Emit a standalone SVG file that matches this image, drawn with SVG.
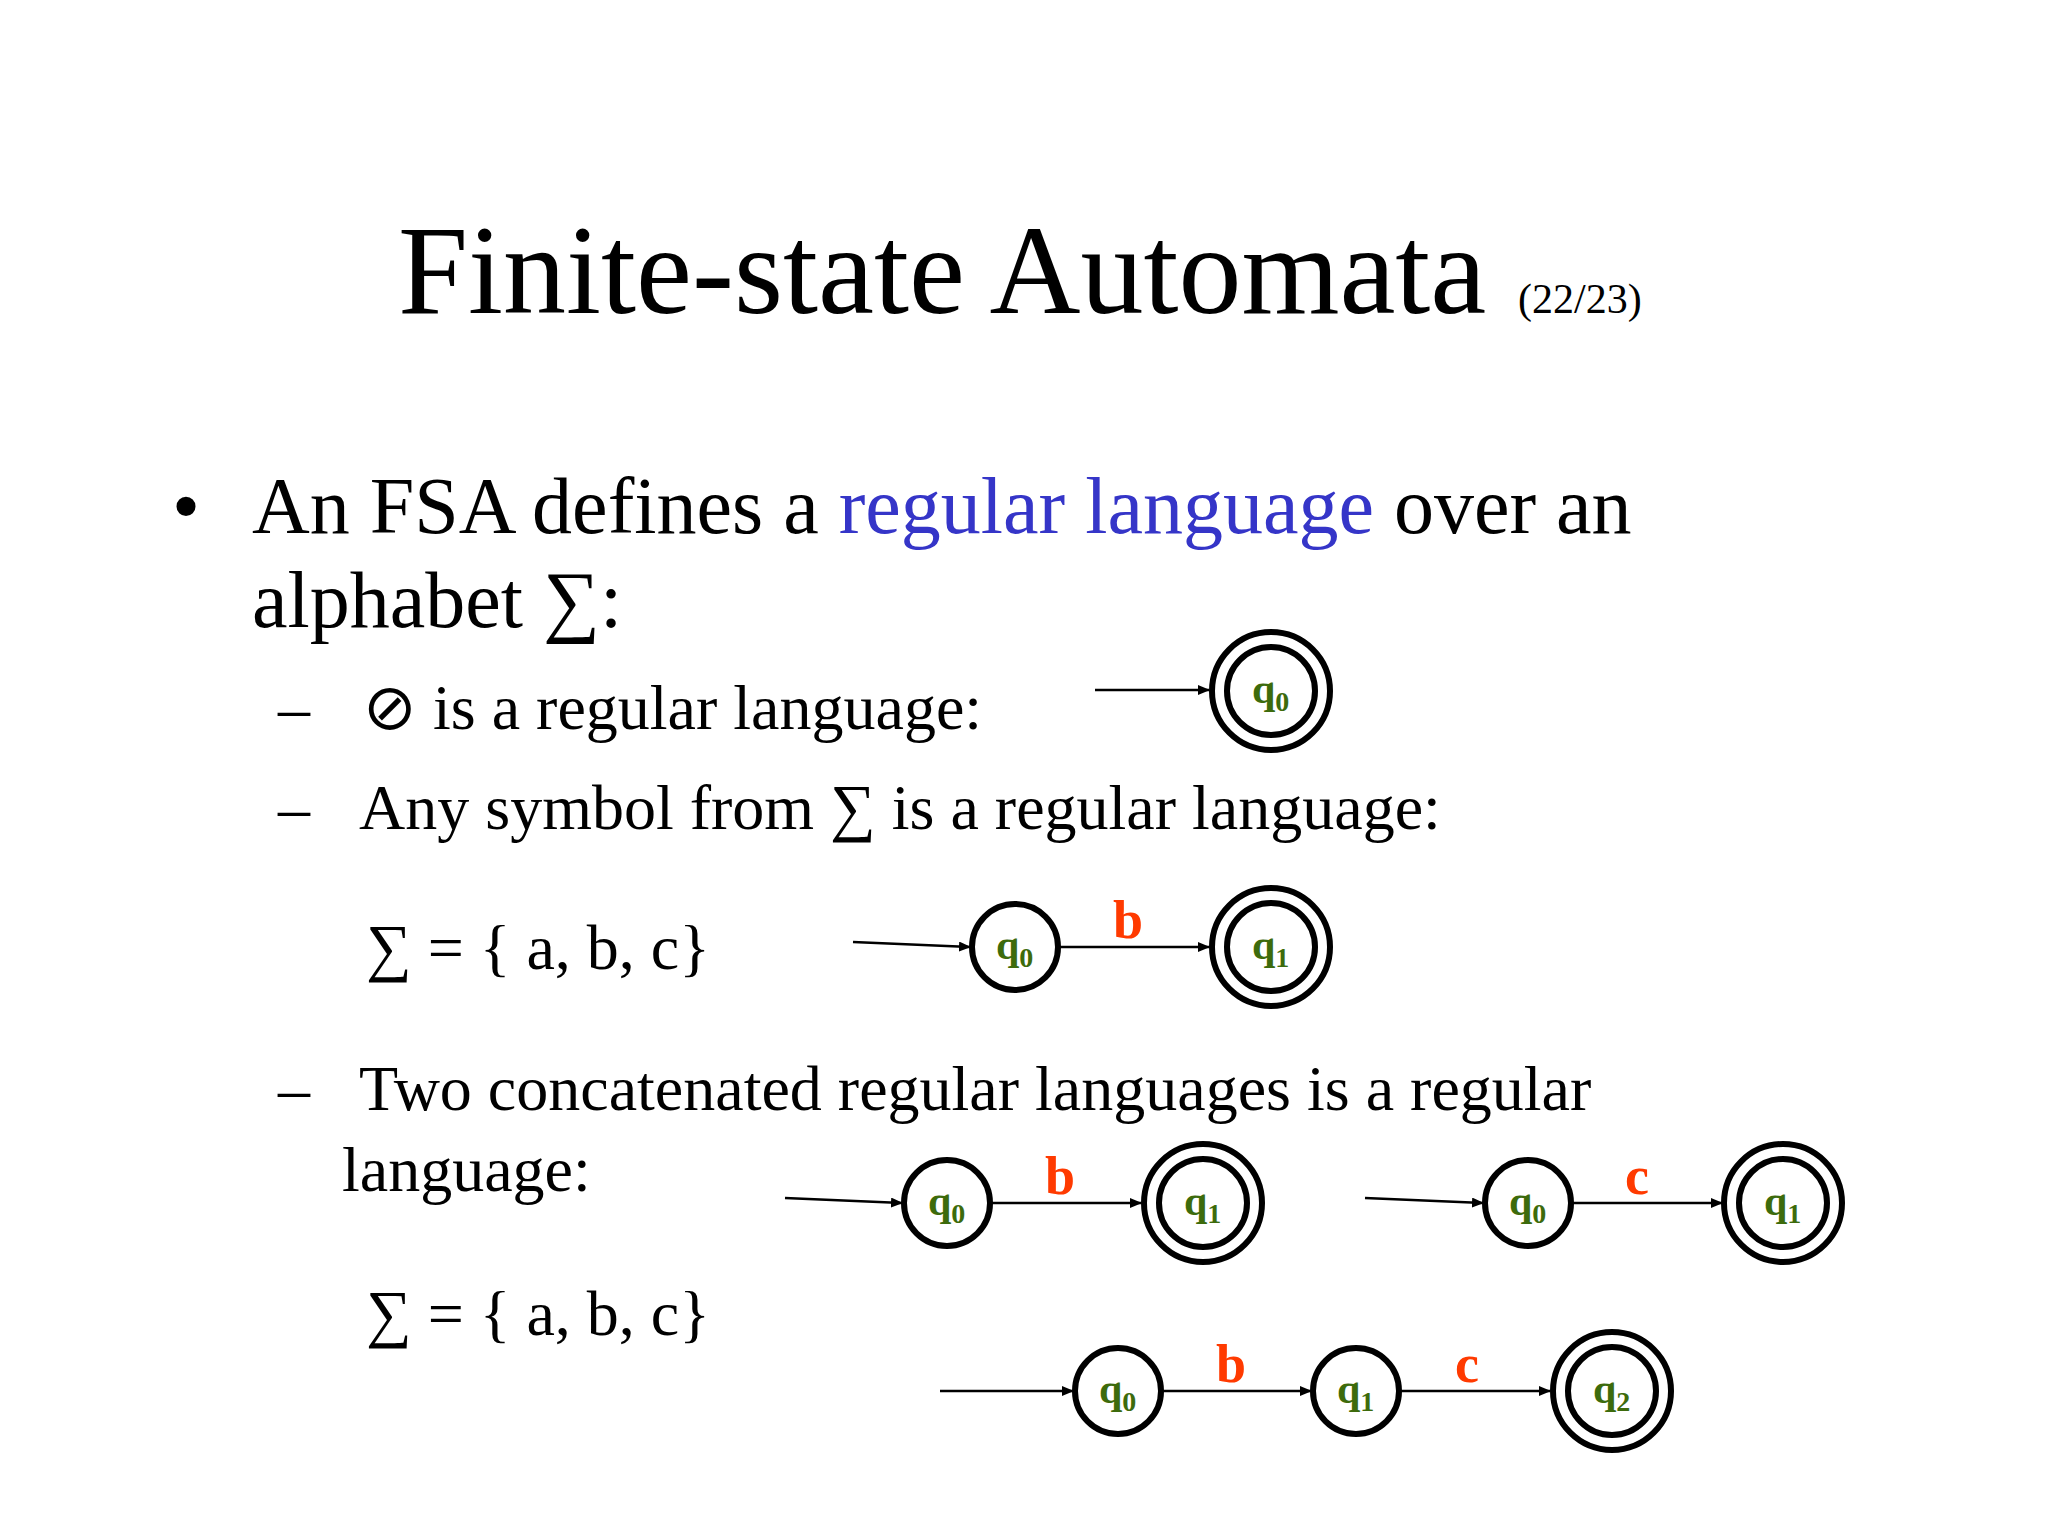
<svg xmlns="http://www.w3.org/2000/svg" width="2048" height="1536" viewBox="0 0 2048 1536">
<style>
.t{font-family:"Liberation Serif","Times New Roman",serif;fill:#000}
.st{font-family:"Liberation Serif",serif;font-weight:bold;fill:#3d6b0c;font-size:42px}
.sub{font-size:28px}
.lb{font-family:"Liberation Serif",serif;font-weight:bold;fill:#ff3a00;font-size:54px;text-anchor:middle}
.c{fill:#fff;stroke:#000;stroke-width:6}
.e{stroke:#000;stroke-width:2.5;fill:none;marker-end:url(#ah)}
</style>
<defs><marker id="ah" markerWidth="12" markerHeight="10" refX="11" refY="5" orient="auto" markerUnits="userSpaceOnUse"><path d="M0,0 L12,5 L0,10 z" fill="#000"/></marker></defs>
<rect width="2048" height="1536" fill="#fff"/>
<text class="t" x="398" y="313" font-size="126">Finite-state Automata</text>
<text class="t" x="1518" y="313" font-size="42">(22/23)</text>
<text class="t" x="172" y="533" font-size="80">•</text>
<text class="t" x="252" y="533" font-size="80">An FSA defines a <tspan fill="#3535c8">regular language</tspan> over an</text>
<text class="t" x="252" y="627" font-size="80">alphabet ∑:</text>
<text class="t" x="278" y="729" font-size="64">–</text>
<text class="t" x="363" y="729" font-size="64">⊘ is a regular language:</text>
<text class="t" x="278" y="829" font-size="64">–</text>
<text class="t" x="359" y="829" font-size="64">Any symbol from ∑  is a regular language:</text>
<text class="t" x="366" y="969" font-size="64">∑ = { a, b, c}</text>
<text class="t" x="278" y="1110" font-size="64">–</text>
<text class="t" x="359" y="1110" font-size="64">Two concatenated regular languages is a regular</text>
<text class="t" x="342" y="1191" font-size="64">language:</text>
<text class="t" x="366" y="1335" font-size="64">∑ = { a, b, c}</text>
<g id="connectors">
<line class="e" x1="1095" y1="690" x2="1209" y2="690"/>
<line class="e" x1="853" y1="942" x2="970" y2="947"/>
<line class="e" x1="1059" y1="947" x2="1209" y2="947"/>
<line class="e" x1="785" y1="1198" x2="902" y2="1203"/>
<line class="e" x1="991" y1="1203" x2="1141" y2="1203"/>
<line class="e" x1="1365" y1="1198" x2="1483" y2="1203"/>
<line class="e" x1="1572" y1="1203" x2="1722" y2="1203"/>
<line class="e" x1="940" y1="1391" x2="1073" y2="1391"/>
<line class="e" x1="1162" y1="1391" x2="1311" y2="1391"/>
<line class="e" x1="1400" y1="1391" x2="1550" y2="1391"/>
<text class="lb" x="1128" y="938">b</text>
<text class="lb" x="1060" y="1194">b</text>
<text class="lb" x="1637" y="1194">c</text>
<text class="lb" x="1231" y="1382">b</text>
<text class="lb" x="1467" y="1382">c</text>
</g>
<g id="n1"><circle class="c" cx="1271" cy="691" r="59"/><circle class="c" cx="1271" cy="691" r="44"/><text class="st" x="1252" y="703">q<tspan class="sub" dy="8">0</tspan></text></g>
<g id="n2"><circle class="c" cx="1015" cy="947" r="43"/><text class="st" x="996" y="959">q<tspan class="sub" dy="8">0</tspan></text></g>
<g id="n3"><circle class="c" cx="1271" cy="947" r="59"/><circle class="c" cx="1271" cy="947" r="44"/><text class="st" x="1252" y="959">q<tspan class="sub" dy="8">1</tspan></text></g>
<g id="n4"><circle class="c" cx="947" cy="1203" r="43"/><text class="st" x="928" y="1215">q<tspan class="sub" dy="8">0</tspan></text></g>
<g id="n5"><circle class="c" cx="1203" cy="1203" r="59"/><circle class="c" cx="1203" cy="1203" r="44"/><text class="st" x="1184" y="1215">q<tspan class="sub" dy="8">1</tspan></text></g>
<g id="n6"><circle class="c" cx="1528" cy="1203" r="43"/><text class="st" x="1509" y="1215">q<tspan class="sub" dy="8">0</tspan></text></g>
<g id="n7"><circle class="c" cx="1783" cy="1203" r="59"/><circle class="c" cx="1783" cy="1203" r="44"/><text class="st" x="1764" y="1215">q<tspan class="sub" dy="8">1</tspan></text></g>
<g id="n8"><circle class="c" cx="1118" cy="1391" r="43"/><text class="st" x="1099" y="1403">q<tspan class="sub" dy="8">0</tspan></text></g>
<g id="n9"><circle class="c" cx="1356" cy="1391" r="43"/><text class="st" x="1337" y="1403">q<tspan class="sub" dy="8">1</tspan></text></g>
<g id="n10"><circle class="c" cx="1612" cy="1391" r="59"/><circle class="c" cx="1612" cy="1391" r="44"/><text class="st" x="1593" y="1403">q<tspan class="sub" dy="8">2</tspan></text></g>
</svg>
